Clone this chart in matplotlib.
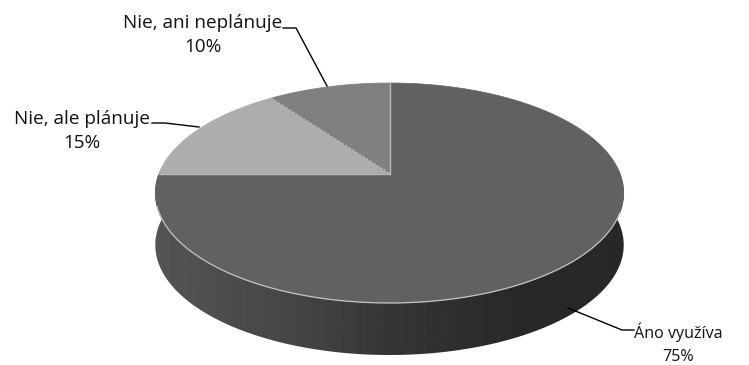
import numpy as np
import matplotlib
matplotlib.use("Agg")
import matplotlib.pyplot as plt
from matplotlib.patches import Polygon

categories = ["Áno využíva", "Nie, ale plánuje", "Nie, ani neplánuje"]
values = [75, 15, 10]
slice_colors = ["#616161", "#adadad", "#808080"]

# Disc geometry in canvas pixels, with a perspective term for the tilt
cx, cy = 389.5, 173.5
radius = 230.5
back_reach, front_reach = 90.5, 129.5
depth = 52.0
persp = (front_reach - back_reach) / (front_reach + back_reach)
squash = back_reach * (1 + persp)


def project(theta, drop=0.0, r=1.0):
    """Map a clockwise-from-top angle on the disc to canvas pixels."""
    ux = r * np.sin(theta)
    uy = r * np.cos(theta)
    w = 1 + persp * uy
    return cx + radius * ux / w, cy - squash * uy / w + drop


fig = plt.figure(figsize=(7.49, 3.65), dpi=100)
ax = fig.add_axes([0, 0, 1, 1])
ax.set_xlim(0, 749)
ax.set_ylim(365, 0)
ax.axis("off")

# Side wall: a horizontal grey ramp clipped to the outline of the wall
front = np.linspace(np.pi * 0.47, np.pi * 1.53, 400)
tx, ty = project(front)
bx, by = project(front, depth)
wall = Polygon(list(zip(tx, ty)) + list(zip(bx[::-1], by[::-1])), closed=True,
               fc="none", ec="none", transform=ax.transData)
ax.add_patch(wall)
ramp_x = np.arange(150, 632)
ramp = np.interp(ramp_x, [157, 300, 390, 500, 622], [0.33, 0.27, 0.21, 0.165, 0.155])
img = ax.imshow(ramp[np.newaxis, :], cmap="gray", vmin=0, vmax=1, aspect="auto",
                extent=(150, 632, 365, 170), interpolation="bilinear", zorder=1)
img.set_clip_path(wall)
ax.set_xlim(0, 749)
ax.set_ylim(365, 0)

# Top face slices, clockwise from twelve o'clock
fractions = np.array(values) / sum(values)
bounds = np.concatenate([[0], np.cumsum(fractions)]) * 2 * np.pi
for start, stop, color in zip(bounds[:-1], bounds[1:], slice_colors):
    arc = np.linspace(start, stop, 240)
    xs, ys = project(arc)
    verts = [(cx, cy)] + list(zip(xs, ys))
    ax.add_patch(Polygon(verts, closed=True, fc=color, ec=color, lw=0.5, zorder=2))

# Pale seams between slices
for b in bounds[:-1]:
    ex, ey = project(b)
    ax.plot([cx, ex], [cy, ey], color="#b9b9b9", lw=1.0, zorder=3,
            ls=(0, (2, 1)) if 1.5 * np.pi < b < 2 * np.pi else "-")

# Pale lip along the front rim
rim = np.linspace(np.pi * 0.613, np.pi * 1.404, 300)
rx, ry = project(rim)
ax.plot(rx, ry, color="#c4c4c4", lw=0.9, zorder=3)

# Labels and their leader lines
label_xy = [(678, 344), (82, 131), (203, 35)]
label_sizes = [11.6, 13.6, 13.6]
label_spacing = [1.62, 1.42, 1.42]
leaders = [
    ([568, 622, 634], [308, 330, 330]),
    ([152, 165, 199], [123, 123, 127]),
    ([283, 296, 327], [28, 28, 86]),
]
for name, value, (lx_text, ly_text), (lx, ly), size, spacing in zip(
        categories, values, label_xy, leaders, label_sizes, label_spacing):
    ax.plot(lx, ly, color="black", lw=1.0, zorder=4, solid_joinstyle="miter")
    ax.text(lx_text, ly_text, f"{name}\n{value}%", ha="center", va="center",
            family="Open Sans", fontsize=size, color="#111111", linespacing=spacing, zorder=5)

fig.savefig("out.png", dpi=100, facecolor="white")
